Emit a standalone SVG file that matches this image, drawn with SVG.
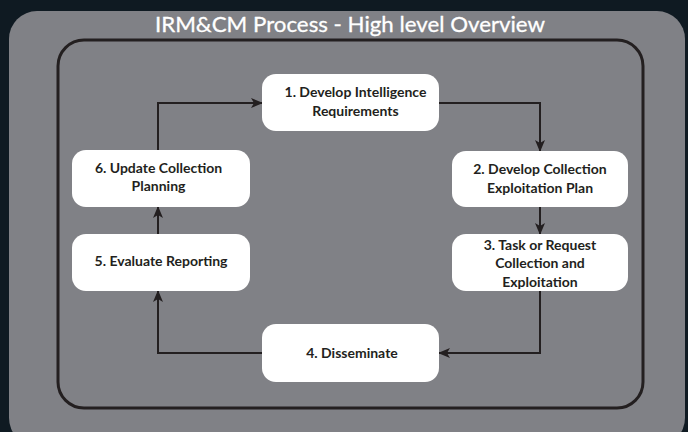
<svg xmlns="http://www.w3.org/2000/svg" width="688" height="432" viewBox="0 0 688 432">
  <style>
    .node rect { fill: #ffffff; }
    .node text { font-family: Lato, "Open Sans", sans-serif; font-weight: bold; font-size: 14px; fill: #231f20; text-anchor: middle; }
    .conn path { fill: none; stroke: #231f20; stroke-width: 2; }
    .title { font-family: Lato, "Open Sans", sans-serif; font-size: 22px; fill: #ffffff; text-anchor: middle; stroke: #ffffff; stroke-width: 0.3; }
  </style>
  <defs>
    <marker id="arrow" viewBox="0 0 12 10" refX="11" refY="5" markerWidth="12" markerHeight="10" markerUnits="userSpaceOnUse" orient="auto">
      <path d="M0,0 L12,5 L0,10 L3,5 Z" fill="#231f20"/>
    </marker>
  </defs>

  <!-- backdrop -->
  <rect x="0" y="0" width="688" height="432" fill="#0f1a22"/>
  <rect x="9" y="11" width="676" height="435" rx="28" fill="#808186"/>
  <text class="title" x="350" y="31.5" textLength="390" lengthAdjust="spacingAndGlyphs">IRM&amp;CM Process - High level Overview</text>

  <!-- process frame -->
  <rect x="58" y="40" width="585" height="368" rx="26" fill="none" stroke="#231f20" stroke-width="3"/>

  <!-- connectors -->
  <g id="connectors" class="conn">
    <path d="M439,103 H540 V151" marker-end="url(#arrow)"/>
    <path d="M540,207 V234" marker-end="url(#arrow)"/>
    <path d="M540,291 V353 H439" marker-end="url(#arrow)"/>
    <path d="M262,353 H158 V291" marker-end="url(#arrow)"/>
    <path d="M158,234 V207" marker-end="url(#arrow)"/>
    <path d="M158,150 V103 H262" marker-end="url(#arrow)"/>
  </g>

  <g id="node1" class="node">
    <rect x="262" y="74" width="177" height="57" rx="14"/>
    <text x="355.5" y="97">1. Develop Intelligence</text>
    <text x="355.5" y="115.5">Requirements</text>
  </g>
  <g id="node2" class="node">
    <rect x="452" y="151" width="176" height="56" rx="14"/>
    <text x="540" y="174">2. Develop Collection</text>
    <text x="540" y="192.5">Exploitation Plan</text>
  </g>
  <g id="node3" class="node">
    <rect x="452" y="234" width="176" height="57" rx="14"/>
    <text x="540" y="250">3. Task or Request</text>
    <text x="540" y="268">Collection and</text>
    <text x="540" y="286.5">Exploitation</text>
  </g>
  <g id="node4" class="node">
    <rect x="262" y="324" width="177" height="58" rx="14"/>
    <text x="352" y="358">4. Disseminate</text>
  </g>
  <g id="node5" class="node">
    <rect x="72" y="234" width="178" height="57" rx="14"/>
    <text x="161" y="266">5. Evaluate Reporting</text>
  </g>
  <g id="node6" class="node">
    <rect x="72" y="150" width="178" height="57" rx="14"/>
    <text x="158.5" y="173">6. Update Collection</text>
    <text x="158.5" y="190.5">Planning</text>
  </g>
</svg>
